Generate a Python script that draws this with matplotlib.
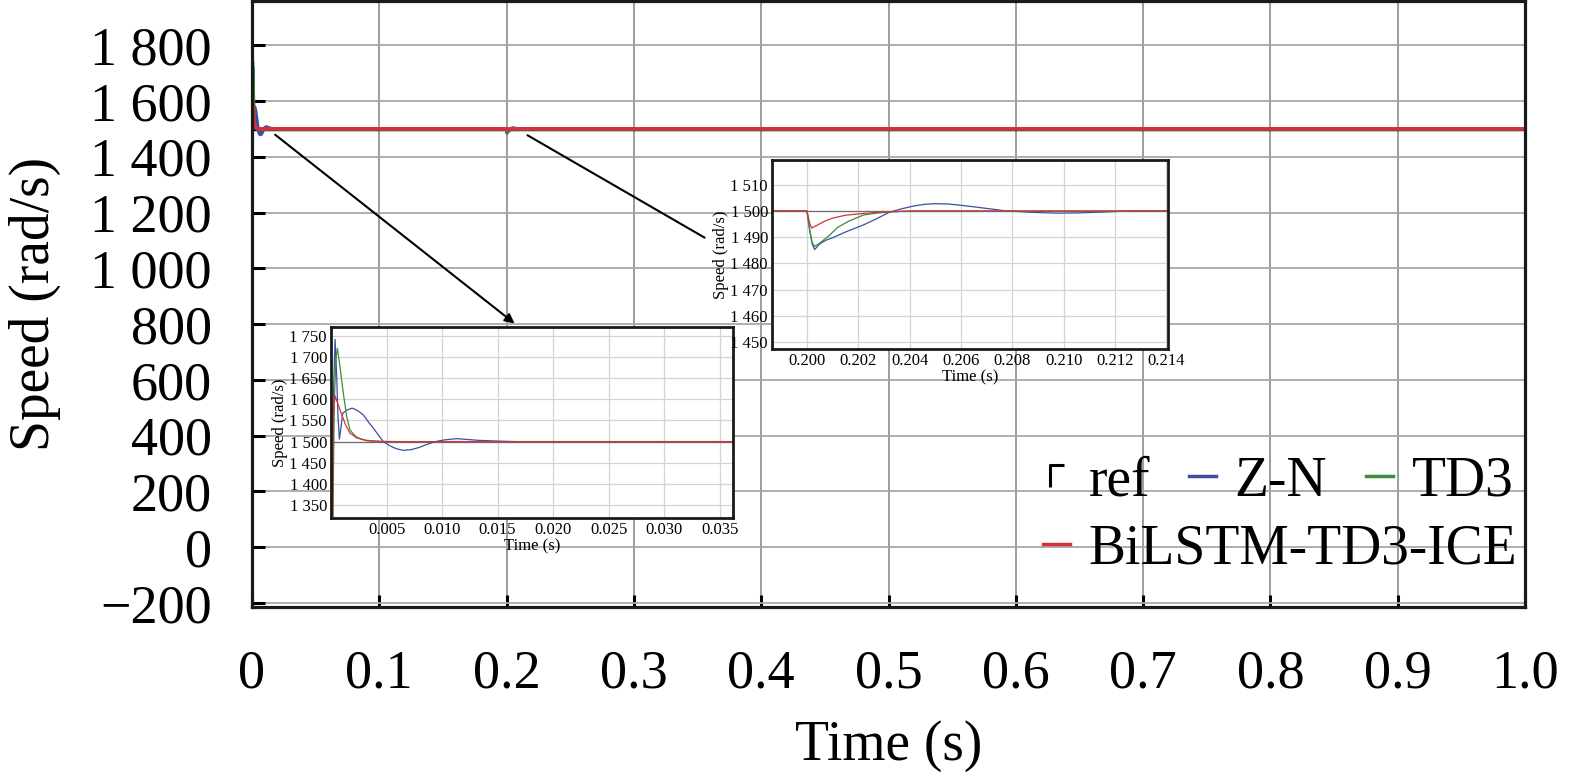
import matplotlib
matplotlib.use("Agg")
import matplotlib.pyplot as plt
from matplotlib.lines import Line2D
from matplotlib.path import Path
from matplotlib.ticker import FixedLocator, FuncFormatter

plt.rcParams['font.family'] = ['Liberation Serif', 'DejaVu Serif']

# ---------------- data ----------------
ref_t = [0.0, 1.0]
ref_v = [1500, 1500]

zn_t = [0.0, 0.0001, 0.0002, 0.00036, 0.0005, 0.00062, 0.00075, 0.0009, 0.00105, 0.0014,
        0.0019, 0.0024, 0.0029, 0.0034, 0.0038, 0.0043, 0.0047, 0.0053, 0.0059, 0.0065,
        0.0072, 0.0079, 0.0086, 0.0094, 0.0102, 0.0113, 0.0123, 0.0133, 0.0143, 0.0155,
        0.0167, 0.019, 0.2, 0.2001, 0.2002, 0.2003, 0.2005, 0.20077, 0.201, 0.2015,
        0.2022, 0.2027, 0.2032, 0.2037, 0.2042, 0.2046, 0.205, 0.2055, 0.206, 0.207,
        0.2078, 0.2088, 0.2097, 0.2106, 0.2115, 0.2125, 1.0]
zn_v = [0, 1200, 1600, 1741, 1660, 1560, 1506, 1535, 1567, 1574,
        1579, 1573, 1563, 1545, 1532, 1514, 1500, 1490, 1483, 1479.5,
        1481, 1486, 1493, 1500, 1504, 1507, 1505, 1503, 1502, 1500.8,
        1500, 1500, 1500, 1493, 1487.5, 1485.3, 1487.5, 1489, 1489.8, 1492,
        1494.7, 1497, 1499.5, 1500.9, 1502, 1502.6, 1502.8, 1502.7, 1502.2, 1501,
        1500, 1499.5, 1499.2, 1499.3, 1499.6, 1500, 1500]

td3_t = [0.0, 0.00015, 0.0003, 0.00045, 0.00057, 0.0008, 0.0011, 0.0014, 0.0017, 0.002,
         0.0023, 0.0027, 0.0032, 0.0039, 0.0047, 0.006, 0.2, 0.2001, 0.2002, 0.2003,
         0.2005, 0.20085, 0.2012, 0.2016, 0.2022, 0.2027, 0.2032, 0.204, 1.0]
td3_v = [0, 1300, 1600, 1700, 1720, 1677, 1615, 1560, 1528, 1518,
         1511, 1506, 1503, 1501.5, 1500.5, 1500, 1500, 1493, 1488, 1486.5,
         1487.8, 1490.5, 1493.8, 1496, 1498.5, 1499.2, 1499.6, 1500, 1500]

bil_t = [0.0, 0.0001, 0.0002, 0.00036, 0.0008, 0.0013, 0.0017, 0.0023, 0.0032, 0.0045,
         0.2, 0.2001, 0.20018, 0.2004, 0.2007, 0.201, 0.2015, 0.2021, 0.203, 0.204, 1.0]
bil_v = [0, 1000, 1560, 1608, 1575, 1540, 1520, 1509, 1502, 1500,
         1500, 1495.5, 1493.5, 1494.6, 1496.2, 1497.3, 1498.4, 1499, 1499.7, 1500, 1500]

labels = ['ref', 'Z-N', 'TD3', 'BiLSTM-TD3-ICE']
colors = ['#6e6e6e', '#3c4fa0', '#3d8c3f', '#d8303b']

main_xticks = [0.0, 0.1, 0.2, 0.3, 0.4, 0.5, 0.6, 0.7, 0.8, 0.9, 1.0]
main_xticklabels = ['0', '0.1', '0.2', '0.3', '0.4', '0.5', '0.6', '0.7', '0.8', '0.9', '1.0']
main_yticks = [-200, 0, 200, 400, 600, 800, 1000, 1200, 1400, 1600, 1800]
in1_xticks = [0.005, 0.010, 0.015, 0.020, 0.025, 0.030, 0.035]
in1_yticks = [1350, 1400, 1450, 1500, 1550, 1600, 1650, 1700, 1750]
in2_xticks = [0.200, 0.202, 0.204, 0.206, 0.208, 0.210, 0.212, 0.214]
in2_yticks = [1450, 1460, 1470, 1480, 1490, 1500, 1510]


def thousands(v, pos=None):
    s = f"{int(round(v)):,}".replace(",", " ")
    return s.replace("-", "\u2212")


series = [(ref_t, ref_v), (zn_t, zn_v), (td3_t, td3_v), (bil_t, bil_v)]

fig = plt.figure(figsize=(15.75, 7.82), dpi=100)
ax = fig.add_axes([0.16, 0.2238, 0.8083, 0.7745])

for (t, v), c, lab in zip(series, colors, labels):
    ax.plot(t, v, color=('black' if lab == 'ref' else c), lw=2.5, label=lab)

ax.set_xlim(0, 1.0)
ax.set_ylim(-214, 1957)
ax.xaxis.set_major_locator(FixedLocator(main_xticks))
ax.set_xticklabels(main_xticklabels)
ax.yaxis.set_major_locator(FixedLocator(main_yticks))
ax.yaxis.set_major_formatter(FuncFormatter(thousands))
ax.tick_params(axis='both', direction='in', length=9, width=2.2, labelsize=39)
ax.tick_params(axis='x', pad=30)
ax.tick_params(axis='y', pad=29)
ax.grid(True, axis='x', color='#8c8c8c', lw=1.2)
ax.grid(True, axis='y', color='#a8a8a8', lw=1.3)
ax.set_axisbelow(True)
for sp in ax.spines.values():
    sp.set_linewidth(2.3)
    sp.set_color('#1a1a1a')
ax.set_xlabel('Time (s)', fontsize=40, labelpad=15)
ax.set_ylabel('Speed (rad/s)', fontsize=40, labelpad=21)

# arrows
ax.annotate('', xy=(0.208, 796), xytext=(0.0165, 1485),
            arrowprops=dict(arrowstyle='-|>', color='black', lw=1.5, mutation_scale=14))
ax.annotate('', xy=(0.3574, 1105), xytext=(0.2145, 1482),
            arrowprops=dict(arrowstyle='-', color='black', lw=1.5))

# legend
step = Path([(-0.3, -0.5), (-0.3, 0.5), (0.3, 0.5)], [Path.MOVETO, Path.LINETO, Path.LINETO])
h_ref = Line2D([], [], color='black', marker=step, linestyle='none', markersize=16,
               markeredgewidth=2.2, markerfacecolor='none')
h_zn = Line2D([], [], color=colors[1], lw=2.5)
h_td3 = Line2D([], [], color=colors[2], lw=2.5)
h_bil = Line2D([], [], color=colors[3], lw=2.5)
leg_kw = dict(frameon=False, fontsize=40, handlelength=0.49, handletextpad=0.33,
              columnspacing=0.7, borderpad=0, borderaxespad=0, loc='center left')
leg1 = ax.legend([h_ref, h_zn, h_td3], labels[:3], ncol=3,
                 bbox_to_anchor=(0.6214, 0.207), **leg_kw)
ax.add_artist(leg1)
ax.legend([h_bil], labels[3:], bbox_to_anchor=(0.6214, 0.095), **leg_kw)


def make_inset(rect, xlim, ylim, xt, yt, xfmt):
    a = fig.add_axes(rect)
    for (t, v), c in zip(series, colors):
        a.plot(t, v, color=c, lw=0.9)
    a.set_xlim(*xlim)
    a.set_ylim(*ylim)
    a.xaxis.set_major_locator(FixedLocator(xt))
    a.xaxis.set_major_formatter(FuncFormatter(xfmt))
    a.yaxis.set_major_locator(FixedLocator(yt))
    a.yaxis.set_major_formatter(FuncFormatter(thousands))
    a.tick_params(axis='both', length=0, labelsize=12, pad=3)
    a.grid(True, color='#d4d4d4', lw=0.9)
    a.set_axisbelow(True)
    for sp in a.spines.values():
        sp.set_linewidth(2.0)
        sp.set_color('#1a1a1a')
    a.set_xlabel('Time (s)', fontsize=12, labelpad=0)
    a.set_ylabel('Speed (rad/s)', fontsize=12, labelpad=1)
    return a


make_inset([0.2102, 0.3376, 0.2552, 0.2442], (0.0, 0.0362), (1320, 1770),
           in1_xticks, in1_yticks, lambda v, p=None: f"{v:.3f}")
make_inset([0.4902, 0.5537, 0.2514, 0.2417], (0.19864, 0.21406), (1447.3, 1519.5),
           in2_xticks, in2_yticks, lambda v, p=None: f"{v:.3f}")

fig.savefig('out.png', dpi=100)
